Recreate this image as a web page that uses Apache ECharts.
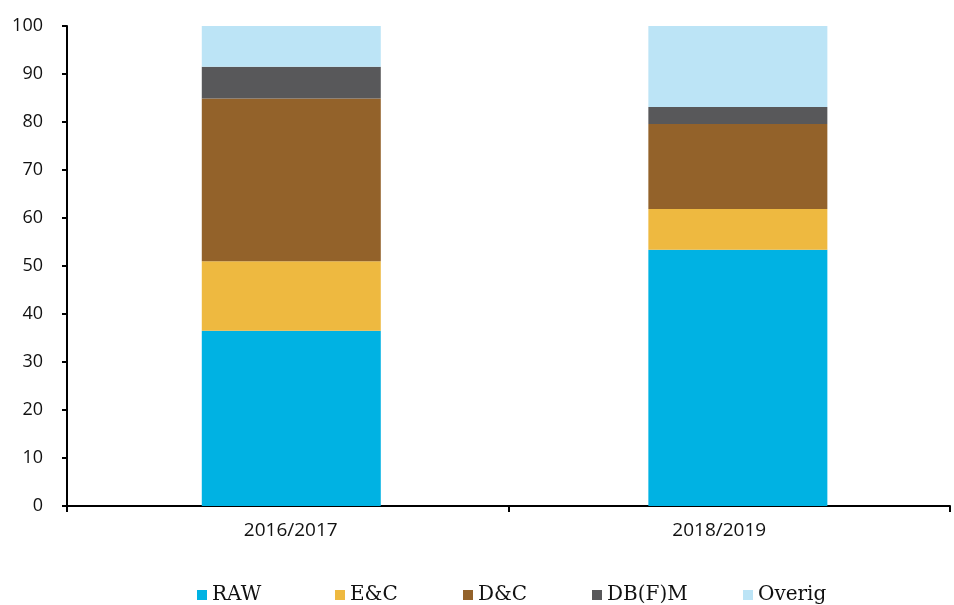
<!DOCTYPE html>
<html>
<head>
<meta charset="utf-8">
<script src="https://cdn.jsdelivr.net/npm/echarts@6/dist/echarts.min.js"></script>
<style>
  html, body { margin: 0; padding: 0; background: #fff; }
  #chart { width: 954px; height: 605px; }
</style>
</head>
<body>
<div id="chart"></div>
<script>
// Stacked shares (%) per period
const categories = ['2016/2017', '2018/2019'];
const seriesNames = ['RAW', 'E&C', 'D&C', 'DB(F)M', 'Overig'];
const rawValues = [36.5, 53.4];
const ecValues = [14.5, 8.5];
const dcValues = [33.9, 17.7];
const dbfmValues = [6.6, 3.5];
const overigValues = [8.5, 16.9];
const yTicks = { min: 0, max: 100, interval: 10 };

const colors = ['#00B2E3', '#EEB940', '#93622A', '#58585A', '#BCE4F6'];
const valueSets = [rawValues, ecValues, dcValues, dbfmValues, overigValues];
const legendLeft = [197, 335, 463, 592, 743];

const chart = echarts.init(document.getElementById('chart'), null, { renderer: 'canvas' });

// bars are placed by category index on a hidden numeric axis (slightly wider spacing than the drawn axis);
// the share comes first in each row so the stack runs along y
const series = seriesNames.map((name, i) => ({
  name: name,
  type: 'bar',
  stack: 'total',
  xAxisIndex: 1,
  yAxisIndex: 1,
  barWidth: 179,
  encode: { x: 1, y: 0 },
  data: categories.map((c, k) => [valueSets[i][k], k]),
  itemStyle: { color: colors[i] },
  emphasis: { disabled: true }
}));

const legends = seriesNames.map((name, i) => ({
  data: [name],
  left: legendLeft[i],
  top: 585,
  icon: 'rect',
  itemWidth: 10,
  itemHeight: 10,
  itemGap: 0,
  padding: 0,
  textStyle: {
    fontFamily: 'DejaVu Serif',
    fontSize: 20,
    color: '#111'
  },
  selectedMode: false
}));

const axisFont = { fontFamily: 'Open Sans', color: '#111' };

chart.setOption({
  animation: false,
  color: colors,
  grid: [
    { left: 67, right: 4, top: 26, bottom: 99, containLabel: false },
    { left: 68, right: 0, top: 26, bottom: 99, containLabel: false }
  ],
  legend: legends,
  xAxis: [
    {
      type: 'category',
      gridIndex: 0,
      data: categories,
      boundaryGap: true,
      axisLine: { show: true, lineStyle: { color: '#000', width: 2 } },
      axisTick: { show: true, length: 6, lineStyle: { color: '#000', width: 2 } },
      axisLabel: Object.assign({
        margin: 15,
        fontSize: 19,
        formatter: (value, idx) => (idx === 0 ? '{a|' : '{b|') + value + '}',
        rich: {
          a: { fontFamily: 'Open Sans', fontSize: 19, color: '#111', padding: [0, 0, 0, 6] },
          b: { fontFamily: 'Open Sans', fontSize: 19, color: '#111', padding: [0, 20, 0, 0] }
        }
      }, axisFont)
    },
    {
      type: 'value',
      gridIndex: 1,
      min: -0.5,
      max: 1.484,
      show: false,
      splitLine: { show: false }
    }
  ],
  yAxis: [
    {
      type: 'value',
      gridIndex: 0,
      min: yTicks.min,
      max: yTicks.max,
      interval: yTicks.interval,
      axisLine: { show: true, lineStyle: { color: '#000', width: 2 } },
      axisTick: { show: true, length: 5, lineStyle: { color: '#000', width: 2 } },
      splitLine: { show: false },
      axisLabel: Object.assign({ margin: 24, fontSize: 18 }, axisFont)
    },
    {
      type: 'value',
      gridIndex: 1,
      min: yTicks.min,
      max: yTicks.max,
      interval: yTicks.interval,
      show: false,
      splitLine: { show: false }
    }
  ],
  series: series
});
</script>
</body>
</html>
